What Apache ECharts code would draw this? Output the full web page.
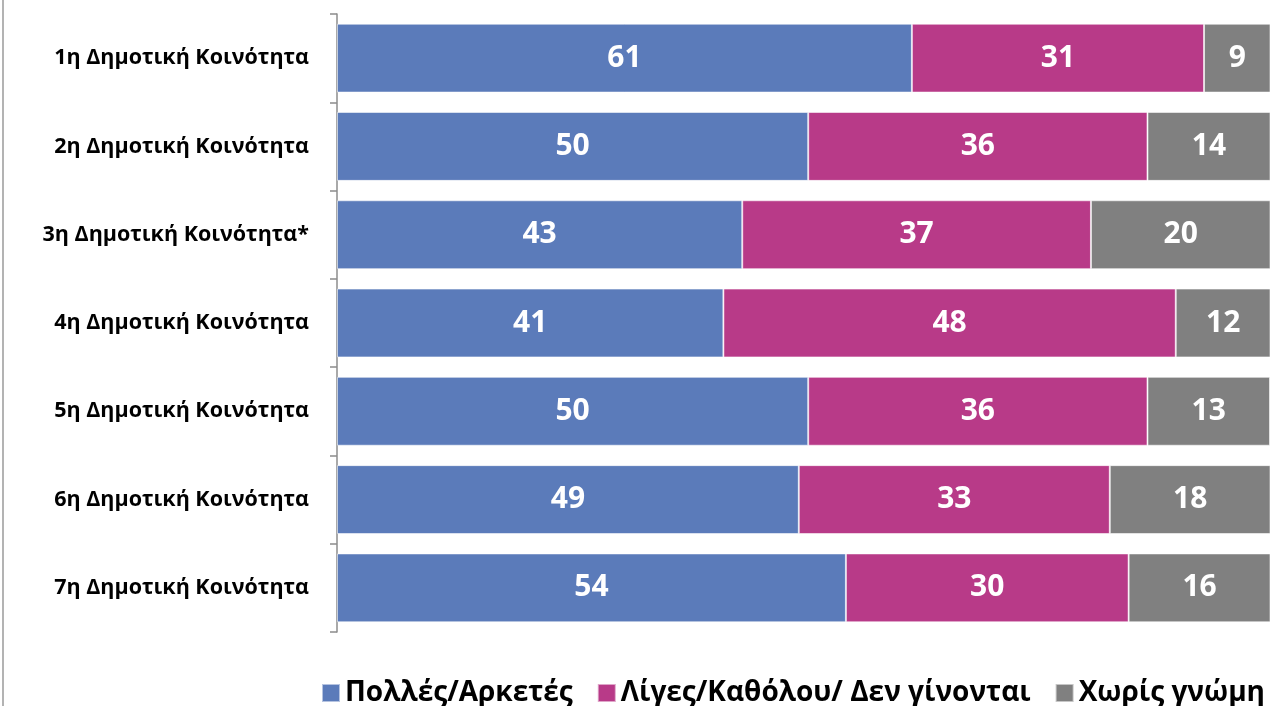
<!DOCTYPE html>
<html>
<head>
<meta charset="utf-8">
<script src="https://cdn.jsdelivr.net/npm/echarts@6/dist/echarts.min.js"></script>
<style>
  html, body { margin: 0; padding: 0; background: #fff; }
  #chart { width: 1271px; height: 706px; }
</style>
</head>
<body>
<div id="chart"></div>
<script>
// categories, top to bottom
const categories = [
  '1η Δημοτική Κοινότητα',
  '2η Δημοτική Κοινότητα',
  '3η Δημοτική Κοινότητα*',
  '4η Δημοτική Κοινότητα',
  '5η Δημοτική Κοινότητα',
  '6η Δημοτική Κοινότητα',
  '7η Δημοτική Κοινότητα'
];
const seriesNames = ['Πολλές/Αρκετές', 'Λίγες/Καθόλου/ Δεν γίνονται', 'Χωρίς γνώμη'];
const many = [61, 50, 43, 41, 50, 49, 54];
const few = [31, 36, 37, 48, 36, 33, 30];
const noOpinion = [9, 14, 20, 12, 13, 18, 16];
const colors = ['#5b7bba', '#b83a88', '#808080'];

const font = '"Open Sans", "Noto Sans", sans-serif';

const chart = echarts.init(document.getElementById('chart'));

function makeSeries(name, data, color) {
  return {
    name: name,
    type: 'bar',
    stack: 'total',
    barCategoryGap: '22%',
    data: data,
    itemStyle: {
      color: color,
      borderColor: 'rgba(255,255,255,0.55)',
      borderWidth: 1
    },
    label: {
      show: true,
      position: 'inside',
      color: '#fff',
      fontFamily: font,
      fontWeight: 'bold',
      fontSize: 30
    }
  };
}

chart.setOption({
  animation: false,
  textStyle: { fontFamily: font },
  // the original picture is cut a little before the 100% end of the bars
  grid: { left: 337, right: 1, top: 14, bottom: 74 },
  legend: {
    top: 674,
    left: 316,
    itemWidth: 18,
    itemHeight: 18,
    itemGap: 24,
    icon: 'rect',
    textStyle: { fontFamily: font, fontWeight: 'bold', fontSize: 28, color: '#000' },
    data: seriesNames
  },
  xAxis: {
    type: 'value',
    min: 0,
    max: 99,
    show: false
  },
  yAxis: {
    type: 'category',
    inverse: true,
    data: categories,
    axisLine: { show: true, lineStyle: { color: '#8c8c8c', width: 1.5 } },
    axisTick: { show: true, length: 7, lineStyle: { color: '#8c8c8c', width: 1.5 } },
    axisLabel: {
      margin: 28,
      color: '#000',
      fontFamily: font,
      fontWeight: 'bold',
      fontSize: 21.5
    }
  },
  graphic: [{
    type: 'line',
    shape: { x1: 3, y1: 0, x2: 3, y2: 706 },
    style: { stroke: '#9a9a9a', lineWidth: 1.5 }
  }],
  series: [
    makeSeries(seriesNames[0], many, colors[0]),
    makeSeries(seriesNames[1], few, colors[1]),
    makeSeries(seriesNames[2], noOpinion, colors[2])
  ]
});
</script>
</body>
</html>
